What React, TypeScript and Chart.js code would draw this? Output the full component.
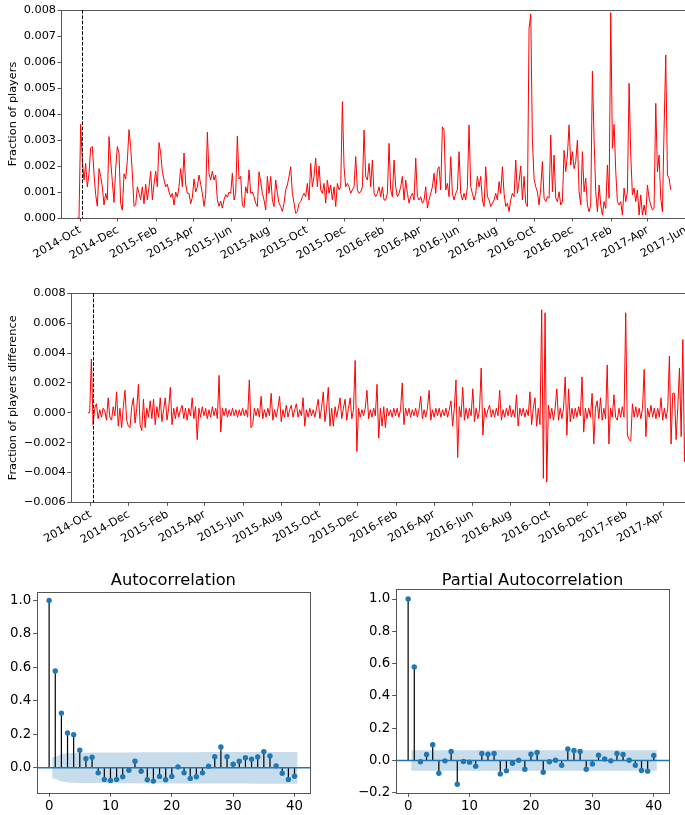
import React, { useEffect, useRef } from 'react';
import { Chart, registerables } from 'chart.js';

Chart.register(...registerables);

const FONT = '"DejaVu Sans", "Liberation Sans", sans-serif';
const INK = '#000000';
const SPINE = '#555555';
const RED = '#ff0000';
const BLUE = '#1f77b4';

// Share of all players, in thousandths, sampled every ~2.68 days
// starting a few days before 2014-10-01.
const playerStartDay = -4.29; // days relative to 2014-10-01
const playerStepDays = 2.68;
const playerFraction = [
  0, 0, 3.6, 2.2, 1.46, 2.1, 1.2, 1.7, 2.7, 2.75,
  1.7, 0.9, 0.45, 1.9, 1.6, 1.2, 0.5, 0.95, 0.7, 3.13,
  2.2, 1.4, 0.6, 1.9, 2.75, 2.5,
  0.55, 0.3, 1.7, 1.5, 2.2, 3.4, 2.75, 1.7, 0.45, 0.5,
  1.2, 0.95, 0.7, 1.2, 0.55, 1.3, 0.7, 1.2, 1.8, 0.7,
  1.3, 1.8, 1.2, 2.9, 2.5, 1.8, 1.46, 1.2, 1.3, 1.0,
  0.8, 0.95, 0.5, 1.0, 0.8, 1.2, 1.9, 1.2, 2.5, 1.3,
  0.95, 0.95, 0.55, 0.8, 1.5, 1.0, 1.2, 1.65, 1.3, 0.95,
  0.45, 0.9, 3.3, 1.7, 1.46, 1.8, 1.46, 1.65, 0.7, 0.45,
  0.65, 0.38, 0.7, 0.9, 0.8, 1.0,
  0.95, 1.72, 0.69, 0.95, 3.15, 1.5, 1.6, 0.5, 0.4, 1.2,
  0.95, 1.85, 0.95, 1.0, 0.82, 0.57, 0.44, 1.78, 1.4, 0.95,
  0.69, 0.31, 1.6, 0.95, 1.6, 0.69, 0.44, 1.46, 0.95, 0.57,
  0.44, 0.25, 0.57, 1.08, 1.27, 1.6, 1.97, 0.95, 0.57, 0.18,
  0.25, 0.57, 0.63, 0.82, 0.95, 0.82, 1.33, 0.69, 2.1, 1.2,
  1.6, 2.3, 1.2, 2.0, 1.08, 0.95, 1.33, 0.57, 1.46, 0.95,
  1.27, 0.69, 1.2, 0.44, 1.33, 1.08, 1.2, 4.47, 1.97, 1.2,
  1.33, 1.2, 0.95, 1.08, 1.2,
  2.36, 1.08, 0.95, 1.0, 1.2, 3.38, 1.6, 1.46, 2.1, 1.2,
  2.23, 0.95, 0.82, 0.95, 1.2, 0.82, 1.2, 0.69,
  0.69, 0.95, 2.87, 1.08, 0.82, 2.23, 1.2, 0.82, 0.95, 1.2,
  1.6, 0.69, 1.46, 0.95, 0.57, 0.82, 0.95, 0.69, 2.3, 0.82,
  0.69, 0.82, 0.57, 0.69, 1.2, 0.38, 0.69, 0.95, 1.2, 1.72,
  0.95, 1.85, 1.97, 1.08, 3.51, 3.38, 1.08, 1.33, 0.82, 2.36,
  0.95, 0.69, 0.95, 1.08, 2.55, 0.95, 0.69, 0.95, 0.69, 1.2,
  3.58, 1.2, 0.95, 0.69, 0.95, 1.6, 1.2, 1.6, 0.69, 0.44,
  1.97, 0.82, 0.69, 0.44, 0.57, 0.69, 0.95, 0.69, 1.4, 0.95,
  1.97, 0.95, 0.44, 0.57, 0.25, 0.69, 0.95, 0.82, 2.23, 0.95,
  1.4, 2.0, 0.69, 1.6, 0.57, 0.44, 7.3, 7.85, 3.0, 1.5,
  1.2,
  1.01, 0.5, 1.15, 2.17, 0.76, 0.63, 0.82, 0.76, 3.19, 1.01,
  2.42, 0.76, 0.63, 1.01, 0.5, 0.63, 2.6, 1.78, 2.42, 3.58,
  2.04, 2.55, 1.9, 2.17, 3.0, 1.01, 0.5, 2.55, 1.01, 1.53,
  0.5, 0.24, 0.5, 5.65, 3.0, 1.01, 0.24, 1.27, 0.5, 0.11,
  0.63, 0.37, 2.04, 0.76, 7.9, 2.68, 3.6, 1.78, 0.63, 0.5,
  0.63, 0.11, 1.15, 0.63, 1.01, 5.18, 2.42, 0.89, 1.15, 0.63,
  1.08, 0.11, 0.89, 0.11, 0.5, 0.11, 1.27, 0.76, 0.5, 0.31,
  0.37, 4.41, 1.78, 2.42, 0.76, 0.24, 3.45, 6.27, 1.65, 1.53,
  1.08,
];

// Day-to-day change of the share (thousandths), on the same time steps.
const playerFractionChange = [
  0, 0, 3.6, -0.8, 0.3, 0.6, -0.4, 0.2, -0.3, 0.3,
  0.1, -0.5, 1.0, -0.3, -0.5, 0.4, -0.2, 1.4, -0.9, 0.3,
  -1.0, 0.4, 1.5, -0.5, -0.9, -1.0, 0.4, 1.0, -0.7, 0.3,
  1.9, -0.8, -1.2, 0.9, -1.0, 0.3, -0.3, 0.8, -0.4, 0.9,
  -0.8, 0.4, -0.3, 1.0, -0.6, 0.2, 1.0, -0.5, 0.3, 1.7,
  -0.8, 0.3, -0.4, 0.4, -0.3, 0.2, 0.5, -0.4, 0.3, -0.5,
  0.3, -0.2, 1.0, -0.4, 0.4, -1.8, 0.3, -0.3, 0.4, -0.2,
  0.3, -0.4, 0.2, -0.3, 0.4, -0.2, 0.3, -0.4, 2.5, -1.3,
  0.3, -0.2, 0.3, -0.3, 0.2, -0.2, 0.3, -0.2, 0.2, -0.3,
  0.2, -0.2, 0.3, -0.2, 0.2, -0.3, 2.2, -1.0, -0.8, 0.3,
  -0.2, 0.3, -0.3, 1.1, -0.4, 0.2, -0.3, 0.3, -0.2, 1.3,
  -0.5, 0.2, -0.3, 0.3, 1.1, -0.6, 0.2, -0.3, 0.5, -0.3,
  0.2, 0.5, -0.3, 0.2, 0.6, -0.3, 0.2, -0.2, 1.0, -0.9,
  0.2, -0.3, 0.3, -0.2, 0.2, -0.3, 0.3, 0.9, -0.4, 0.3,
  1.4, -0.6, 0.3, 1.7, -0.9, 0.3, -0.9, 0.4, -0.3, 0.3,
  1.0, -0.4, 0.3, 0.9, -0.5, 0.3, 1.0, -0.4, 0.2, 3.5,
  -2.6, 0.3, -0.3, 0.2, -0.2, 0.3, 1.5, -0.4, 0.2, -0.3,
  0.3, -0.2, 1.9, -1.7, 0.3, -0.9, 0.4, -1.0, 0.3, -0.2,
  0.2, -0.3, 0.3, -0.2, 0.3, -0.3, 0.2, 2.0, -0.8, 0.3,
  -0.2, 0.3, -0.3, 0.2, -0.2, 0.3, -0.3, 0.2, 1.1, -0.4,
  0.2, -0.3, 0.3, 1.5, -0.5, 0.2, -0.3, 0.3, -0.2, 0.3,
  -0.3, 0.2, -0.2, 0.3, -0.3, 0.2, 0.8, -0.9, 0.3, 2.2,
  -3.0, 0.4, -0.3, 1.7, -0.5, 0.3, -0.4, 0.3, -0.2, 1.6,
  -0.6, 0.3, -0.4, 0.2, 3.0, -1.5, 0.3, -0.3, 0.2, 0.5,
  -0.3, 0.2, -0.3, 0.3, -0.2, 1.5, -0.5, 0.2, -0.3, 0.3,
  -0.2, 0.5, -0.3, 0.2, -0.3, 1.2, -0.9, 0.3, -0.2, 0.3,
  -0.3, 0.2, -0.2, 1.4, -0.8, 0.3, 1.0, -0.9, 0.3, -0.8,
  6.9, -4.4, 6.7, -4.65, 0.5, -0.4, 0.3, -0.5, 0.3, 1.6,
  -0.5, 0.3, -0.4, 0.3, 2.4, -1.5, 1.6, -0.6, 0.3, -0.4,
  0.3, -0.3, 0.4, -0.2, 2.4, -1.3, 0.3, -0.4, 0.3, -0.3,
  1.3, -2.1, 0.3, 0.8, -0.4, 1.0, -0.5, 0.3, -0.4, 3.2,
  -2.1, 0.3, -0.3, 1.2, -0.3, -0.5, 0.3, -0.3, 0.4, -0.3,
  6.7, -1.5, -1.8, -1.9, 0.6, -0.3, 0.4, -0.3, 0.3, -0.4,
  0.3, 2.9, -1.6, 0.3, -0.3, 0.5, -0.3, 0.3, -0.4, 0.3,
  -0.3, 1.0, -0.5, 0.3, -0.4, 0.3, 3.8, -2.1, 1.3, 1.3,
  -1.8, 0.4, 3.0, -1.6, 4.9, -3.3, 0.3,
];

// Date of the dashed marker, days relative to 2014-10-01.
const markerDay = 3.5;

const dateTickLabels = [
  '2014-Oct', '2014-Dec', '2015-Feb', '2015-Apr', '2015-Jun', '2015-Aug',
  '2015-Oct', '2015-Dec', '2016-Feb', '2016-Apr', '2016-Jun', '2016-Aug',
  '2016-Oct', '2016-Dec', '2017-Feb', '2017-Apr', '2017-Jun',
];

const fractionTicks = [0, 1, 2, 3, 4, 5, 6, 7, 8];
const diffTicks = [-6, -4, -2, 0, 2, 4, 6, 8];

// Correlograms, lags 0..40
const acfValues = [
  1.0, 0.578, 0.327, 0.208, 0.198, 0.105, 0.055, 0.063, -0.030, -0.069,
  -0.075, -0.069, -0.053, -0.014, 0.040, -0.020, -0.071, -0.079, -0.051, -0.071,
  -0.051, 0.006, -0.030, -0.063, -0.053, -0.030, 0.010, 0.067, 0.125, 0.067,
  0.022, 0.040, 0.061, 0.051, 0.065, 0.097, 0.071, 0.012, -0.032, -0.069,
  -0.050,
];
// half-width of the confidence band for lags 1..40
const acfBand = [
  0.065, 0.082, 0.087, 0.089, 0.090, 0.091, 0.091, 0.091, 0.092, 0.092,
  0.092, 0.092, 0.092, 0.092, 0.093, 0.093, 0.093, 0.093, 0.093, 0.093,
  0.093, 0.093, 0.093, 0.093, 0.094, 0.094, 0.094, 0.094, 0.094, 0.094,
  0.094, 0.094, 0.095, 0.095, 0.095, 0.095, 0.095, 0.095, 0.095, 0.095,
];
const pacfValues = [
  1.0, 0.579, -0.008, 0.037, 0.098, -0.079, -0.002, 0.056, -0.147, -0.006,
  -0.010, -0.035, 0.044, 0.039, 0.044, -0.083, -0.064, -0.017, 0.002, -0.054,
  0.039, 0.050, -0.073, -0.008, 0.002, -0.029, 0.071, 0.062, 0.056, -0.054,
  -0.021, 0.033, 0.010, -0.002, 0.044, 0.037, 0.002, -0.029, -0.062, -0.066,
  0.031,
];
const pacfBand = 0.064;
const lagTicks = [0, 10, 20, 30, 40];
const acfTicks = [0, 0.2, 0.4, 0.6, 0.8, 1.0];
const pacfTicks = [-0.2, 0, 0.2, 0.4, 0.6, 0.8, 1.0];

const DAY_MS = 86400000;
const ORIGIN = Date.UTC(2014, 9, 1);
const MONTHS = ['Jan', 'Feb', 'Mar', 'Apr', 'May', 'Jun', 'Jul', 'Aug', 'Sep', 'Oct', 'Nov', 'Dec'];
const dateTicks = dateTickLabels.map((label) => {
  const [y, m] = label.split('-');
  return { value: (Date.UTC(Number(y), MONTHS.indexOf(m), 1) - ORIGIN) / DAY_MS, label };
});

const fmtSigned = (v: number, digits: number) =>
  (v < 0 ? '\u2212' : '') + Math.abs(v).toFixed(digits);

// Full box around the plotting area
const framePlugin = {
  id: 'frame',
  afterDatasetsDraw(chart: any) {
    const { ctx, chartArea: a } = chart;
    ctx.save();
    ctx.strokeStyle = SPINE;
    ctx.lineWidth = 1;
    const l = Math.round(a.left) + 0.5;
    const t = Math.round(a.top) + 0.5;
    ctx.strokeRect(l, t, Math.round(a.right) - Math.round(a.left), Math.round(a.bottom) - Math.round(a.top));
    ctx.restore();
  },
};

// Dashed vertical marker at a given x value
const markerPlugin = {
  id: 'marker',
  afterDatasetsDraw(chart: any, _args: any, opts: any) {
    if (opts == null || opts.value == null) return;
    const { ctx, chartArea: a } = chart;
    const x = Math.round(chart.scales.x.getPixelForValue(opts.value)) + 0.5;
    ctx.save();
    ctx.strokeStyle = '#000';
    ctx.lineWidth = 1;
    ctx.setLineDash([3.7, 1.6]);
    ctx.beginPath();
    ctx.moveTo(x, a.top);
    ctx.lineTo(x, a.bottom);
    ctx.stroke();
    ctx.restore();
  },
};

// Centred title above the plotting area
const axTitlePlugin = {
  id: 'axTitle',
  afterDraw(chart: any, _args: any, opts: any) {
    if (!opts || !opts.text) return;
    const { ctx, chartArea: a } = chart;
    ctx.save();
    ctx.fillStyle = INK;
    ctx.font = `${opts.size}px ${FONT}`;
    ctx.textAlign = 'center';
    ctx.textBaseline = 'middle';
    ctx.fillText(opts.text, (a.left + a.right) / 2, opts.y);
    ctx.restore();
  },
};

type Frame = {
  left: number;
  top: number;
  width: number;
  height: number;
  areaLeft: number;
  areaTop: number;
  areaRight: number;
  areaBottom: number;
};

function baseOptions(f: Frame) {
  return {
    animation: false,
    responsive: false,
    maintainAspectRatio: false,
    devicePixelRatio: 1,
    events: [],
    layout: {
      padding: { top: f.areaTop, left: 0, right: f.width - f.areaRight, bottom: 0 },
    },
  };
}

function tickGrid(len: number) {
  return {
    display: true,
    drawOnChartArea: false,
    drawTicks: true,
    tickLength: len,
    tickWidth: 1,
    color: SPINE,
  };
}

function timeSeriesConfig(
  f: Frame,
  values: number[],
  xMin: number,
  xMax: number,
  yMin: number,
  yMax: number,
  yTicks: number[],
  yTitle: string,
) {
  const points = values.map((v, i) => ({ x: playerStartDay + i * playerStepDays, y: v }));
  const visibleTicks = dateTicks.filter((t) => t.value >= xMin && t.value <= xMax);
  return {
    type: 'line',
    data: {
      datasets: [
        {
          data: points,
          borderColor: RED,
          borderWidth: 1,
          pointRadius: 0,
          tension: 0,
          fill: false,
        },
      ],
    },
    options: {
      ...baseOptions(f),
      plugins: {
        legend: { display: false },
        tooltip: { enabled: false },
        marker: { value: markerDay },
      },
      scales: {
        x: {
          type: 'linear',
          min: xMin,
          max: xMax,
          afterFit: (s: any) => {
            s.height = f.height - f.areaBottom;
          },
          afterBuildTicks: (s: any) => {
            s.ticks = visibleTicks.map((t) => ({ value: t.value }));
          },
          grid: tickGrid(3.5),
          border: { display: false },
          ticks: {
            autoSkip: false,
            minRotation: 30,
            maxRotation: 30,
            padding: 2,
            color: INK,
            font: { family: FONT, size: 11.3 },
            callback: (_v: any, i: number) => visibleTicks[i].label,
          },
        },
        y: {
          type: 'linear',
          min: yMin,
          max: yMax,
          afterFit: (s: any) => {
            s.width = f.areaLeft;
          },
          afterBuildTicks: (s: any) => {
            s.ticks = yTicks.map((v) => ({ value: v }));
          },
          grid: tickGrid(3.5),
          border: { display: false },
          title: {
            display: true,
            text: yTitle,
            color: INK,
            font: { family: FONT, size: 11.3 },
            padding: { top: 6.5, bottom: 0 },
          },
          ticks: {
            padding: 1.5,
            color: INK,
            font: { family: FONT, size: 11.3 },
            callback: (v: number) => fmtSigned(v / 1000, 3),
          },
        },
      },
    },
    plugins: [framePlugin, markerPlugin],
  };
}

function correlogramConfig(
  f: Frame,
  title: string,
  titleY: number,
  values: number[],
  band: number[],
  yMin: number,
  yMax: number,
  yTicks: number[],
) {
  const xMin = -2.025;
  const xMax = 42.525;
  const upper: { x: number; y: number }[] = [{ x: 0.5, y: band[0] }];
  const lower: { x: number; y: number }[] = [{ x: 0.5, y: -band[0] }];
  band.forEach((b, i) => {
    upper.push({ x: i + 1, y: b });
    lower.push({ x: i + 1, y: -b });
  });
  upper.push({ x: 40.5, y: band[band.length - 1] });
  lower.push({ x: 40.5, y: -band[band.length - 1] });

  const stems: { x: number; y: number | null }[] = [];
  values.forEach((v, lag) => {
    stems.push({ x: lag, y: 0 }, { x: lag, y: v }, { x: lag, y: null });
  });
  const dots = values.map((v, lag) => ({ x: lag, y: v }));

  return {
    type: 'line',
    data: {
      datasets: [
        {
          data: upper,
          borderWidth: 0,
          pointRadius: 0,
          backgroundColor: 'rgba(31,119,180,0.25)',
          fill: '+1',
          order: 10,
        },
        {
          data: lower,
          borderWidth: 0,
          pointRadius: 0,
          fill: false,
          order: 10,
        },
        {
          data: stems,
          borderColor: '#000',
          borderWidth: 1.2,
          pointRadius: 0,
          spanGaps: false,
          fill: false,
          order: 5,
        },
        {
          data: [
            { x: xMin, y: 0 },
            { x: xMax, y: 0 },
          ],
          borderColor: BLUE,
          borderWidth: 1.5,
          pointRadius: 0,
          fill: false,
          order: 3,
        },
        {
          data: dots,
          showLine: false,
          pointRadius: 2.7,
          pointBorderWidth: 0,
          pointBackgroundColor: BLUE,
          fill: false,
          order: 1,
        },
      ],
    },
    options: {
      ...baseOptions(f),
      plugins: {
        legend: { display: false },
        tooltip: { enabled: false },
        filler: { propagate: false },
        axTitle: { text: title, y: titleY, size: 16.3 },
      },
      scales: {
        x: {
          type: 'linear',
          min: xMin,
          max: xMax,
          afterFit: (s: any) => {
            s.height = f.height - f.areaBottom;
          },
          afterBuildTicks: (s: any) => {
            s.ticks = lagTicks.map((v) => ({ value: v }));
          },
          grid: tickGrid(3.5),
          border: { display: false },
          ticks: {
            autoSkip: false,
            maxRotation: 0,
            padding: 2,
            color: INK,
            font: { family: FONT, size: 13.3 },
            callback: (v: number) => String(v),
          },
        },
        y: {
          type: 'linear',
          min: yMin,
          max: yMax,
          afterFit: (s: any) => {
            s.width = f.areaLeft;
          },
          afterBuildTicks: (s: any) => {
            s.ticks = yTicks.map((v) => ({ value: v }));
          },
          grid: tickGrid(3.5),
          border: { display: false },
          ticks: {
            padding: 2,
            color: INK,
            font: { family: FONT, size: 13.3 },
            callback: (v: number) => fmtSigned(v, 1),
          },
        },
      },
    },
    plugins: [framePlugin, axTitlePlugin],
  };
}

function ChartBox({ frame, make }: { frame: Frame; make: () => any }) {
  const ref = useRef<HTMLCanvasElement | null>(null);
  useEffect(() => {
    if (!ref.current) return;
    const chart = new Chart(ref.current, make());
    return () => chart.destroy();
  }, []);
  return (
    <canvas
      ref={ref}
      width={frame.width}
      height={frame.height}
      style={{
        position: 'absolute',
        left: frame.left,
        top: frame.top,
        width: frame.width,
        height: frame.height,
      }}
    />
  );
}

const topFrame: Frame = {
  left: 0, top: 0, width: 720, height: 275,
  areaLeft: 61, areaTop: 10, areaRight: 700, areaBottom: 218,
};
const diffFrame: Frame = {
  left: 0, top: 280, width: 720, height: 290,
  areaLeft: 70.7, areaTop: 13.3, areaRight: 700, areaBottom: 222.3,
};
const acfFrame: Frame = {
  left: 0, top: 560, width: 340, height: 255,
  areaLeft: 36.7, areaTop: 31.7, areaRight: 310, areaBottom: 233.3,
};
const pacfFrame: Frame = {
  left: 340, top: 560, width: 345, height: 255,
  areaLeft: 55.7, areaTop: 29, areaRight: 329.3, areaBottom: 233.3,
};

export default function App() {
  return (
    <div
      style={{
        position: 'fixed',
        left: 0,
        top: 0,
        width: 685,
        height: 815,
        overflow: 'hidden',
        background: '#ffffff',
      }}
    >
      <ChartBox
        frame={topFrame}
        make={() => timeSeriesConfig(topFrame, playerFraction, -30.55, 996.8, 0, 8, fractionTicks, 'Fraction of players')}
      />
      <ChartBox
        frame={diffFrame}
        make={() =>
          timeSeriesConfig(diffFrame, playerFractionChange, -31.9, 971.8, -6, 8, diffTicks, 'Fraction of players difference')
        }
      />
      <ChartBox
        frame={acfFrame}
        make={() => correlogramConfig(acfFrame, 'Autocorrelation', 20.7, acfValues, acfBand, -0.152, 1.052, acfTicks)}
      />
      <ChartBox
        frame={pacfFrame}
        make={() =>
          correlogramConfig(
            pacfFrame,
            'Partial Autocorrelation',
            20.7,
            pacfValues,
            acfBand.map(() => pacfBand),
            -0.203,
            1.062,
            pacfTicks,
          )
        }
      />
    </div>
  );
}
